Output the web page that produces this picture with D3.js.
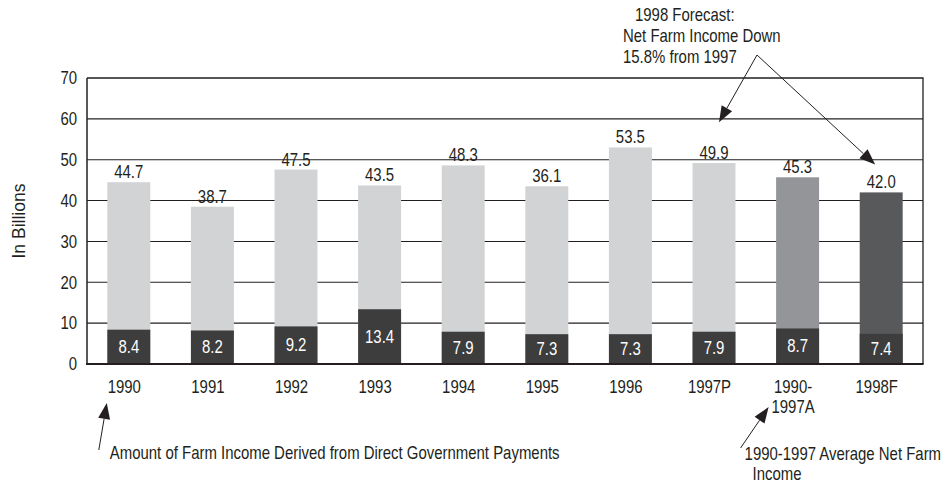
<!DOCTYPE html>
<html><head><meta charset="utf-8">
<script src="https://cdn.jsdelivr.net/npm/d3@7"></script>
<style>
body{margin:0;background:#fff}
text{font-family:"Liberation Sans",Arial,sans-serif;fill:#231f20;font-size:18px}
</style>
</head><body><svg id="c" width="950" height="489"></svg>
<script>
// ---- data ----
const categories = ["1990","1991","1992","1993","1994","1995","1996","1997P","1990-1997A","1998F"];
const categoryLines = [["1990"],["1991"],["1992"],["1993"],["1994"],["1995"],["1996"],["1997P"],["1990-","1997A"],["1998F"]];
const totalBarHeights = [44.5,38.5,47.6,43.7,48.6,43.5,53.0,49.2,45.7,42.0];
const totalLabels = ["44.7","38.7","47.5","43.5","48.3","36.1","53.5","49.9","45.3","42.0"];
const govPayments = [8.4,8.2,9.2,13.4,7.9,7.3,7.3,7.9,8.7,7.4];
const govLabels = ["8.4","8.2","9.2","13.4","7.9","7.3","7.3","7.9","8.7","7.4"];
const barKinds = ["annual","annual","annual","annual","annual","annual","annual","annual","average","forecast"];
const yTicks = [0,10,20,30,40,50,60,70];
const yTitle = "In Billions";
const noteGov = "Amount of Farm Income Derived from Direct Government Payments";
const noteAvg = ["1990-1997 Average Net Farm","Income"];
const noteForecast = ["1998 Forecast:","Net Farm Income Down","15.8% from 1997"];

// ---- styles ----
const topFill = {annual:"#d1d3d4", average:"#939598", forecast:"#58595b"};
const govFill = "#3d3d3d";
const ink = "#231f20";
const SX = 0.83; // condensed text

const svg = d3.select("#c");
const L = 87, R = 923, T = 78, B = 364;

const x = d3.scaleBand().domain(categories).range([L, R]).paddingInner(0.486).paddingOuter(0.243);
const y = d3.scaleLinear().domain([0, 70]).range([B, T]);
const bw = x.bandwidth();
const xc = c => x(c) + bw / 2;
const pos = (px, py, rot) => `translate(${px},${py})${rot ? ` rotate(${rot})` : ""} scale(${SX},1)`;

// gridlines
svg.append("g").selectAll("line").data(yTicks.filter(t => t > 0 && t < 70)).join("line")
  .attr("x1", L).attr("x2", R).attr("y1", d => y(d)).attr("y2", d => y(d))
  .attr("stroke", ink).attr("stroke-width", 1.1);

// frame top/right
svg.append("path").attr("d", `M${L},${y(70)}H${R}V${B}`).attr("fill", "none")
  .attr("stroke", ink).attr("stroke-width", 1.3);

// bars
const rows = categories.map((c, i) => ({c, i, total: totalBarHeights[i], gov: govPayments[i], kind: barKinds[i]}));
svg.append("g").selectAll("rect").data(rows).join("rect")
  .attr("x", d => x(d.c)).attr("width", bw)
  .attr("y", d => y(d.total)).attr("height", d => y(0) - y(d.total))
  .attr("fill", d => topFill[d.kind]);
svg.append("g").selectAll("rect").data(rows).join("rect")
  .attr("x", d => x(d.c)).attr("width", bw)
  .attr("y", d => y(d.gov)).attr("height", d => y(0) - y(d.gov))
  .attr("fill", govFill);

// axes lines
svg.append("line").attr("x1", L).attr("x2", L).attr("y1", y(70)).attr("y2", B)
  .attr("stroke", ink).attr("stroke-width", 1.5);
svg.append("line").attr("x1", L - 1).attr("x2", R + 0.6).attr("y1", B).attr("y2", B)
  .attr("stroke", ink).attr("stroke-width", 2.2);

// y tick labels
svg.append("g").selectAll("text").data(yTicks).join("text")
  .attr("transform", d => pos(L - 10, y(d))).attr("dy", "0.35em")
  .attr("text-anchor", "end").text(d => d);

// y title
svg.append("text").attr("transform", `translate(19,${(T + B) / 2}) rotate(-90)`)
  .attr("text-anchor", "middle").attr("dy", "0.35em")
  .attr("textLength", 75).attr("lengthAdjust", "spacingAndGlyphs").text(yTitle);

// total labels
svg.append("g").selectAll("text").data(rows).join("text")
  .attr("transform", d => pos(xc(d.c), y(d.total) - 4))
  .attr("text-anchor", "middle").text(d => totalLabels[d.i]);

// gov labels
svg.append("g").selectAll("text").data(rows).join("text")
  .attr("transform", d => pos(xc(d.c), (y(d.gov) + y(0)) / 2 + 6))
  .attr("text-anchor", "middle").style("fill", "#fff").text(d => govLabels[d.i]);

// category labels
const cat = svg.append("g").selectAll("text").data(rows).join("text")
  .attr("transform", d => pos(xc(d.c) - 4.5, B + 29)).attr("text-anchor", "middle");
cat.selectAll("tspan").data(d => categoryLines[d.i]).join("tspan")
  .attr("x", 0).attr("dy", (d, j) => j ? 20 : 0).text(d => d);

// arrows
function arrow(x1, y1, x2, y2, len, half) {
  const a = Math.atan2(y2 - y1, x2 - x1);
  const bx = x2 - len * Math.cos(a), by = y2 - len * Math.sin(a);
  svg.append("line").attr("x1", x1).attr("y1", y1).attr("x2", bx).attr("y2", by)
    .attr("stroke", ink).attr("stroke-width", 1);
  const px = -Math.sin(a) * half, py = Math.cos(a) * half;
  svg.append("path").attr("d", `M${x2},${y2}L${bx + px},${by + py}L${bx - px},${by - py}Z`).attr("fill", ink);
}

// bottom-left note
arrow(xc("1990") - 30, B + 86, xc("1990") - 22, B + 39, 16, 6);
svg.append("text").attr("transform", pos(xc("1990") - 19, B + 95)).text(noteGov);

// bottom-right note
arrow(xc("1990-1997A") - 57, B + 84, xc("1990-1997A") - 29, B + 43, 16, 6);
svg.append("g").selectAll("text").data(noteAvg).join("text")
  .attr("transform", (d, j) => pos(xc("1990-1997A") - (j ? 45 : 53), B + 96 + j * 20)).text(d => d);

// top note
const fx = [635, 623, 623], fy = [21, 42, 63];
svg.append("g").selectAll("text").data(noteForecast).join("text")
  .attr("transform", (d, j) => pos(fx[j], fy[j])).text(d => d);
arrow(757, 55, xc("1997P") + 5, y(59.2), 16, 6);
arrow(757, 55, xc("1998F") - 6, y(48.8), 16, 6);
</script>
</body></html>
